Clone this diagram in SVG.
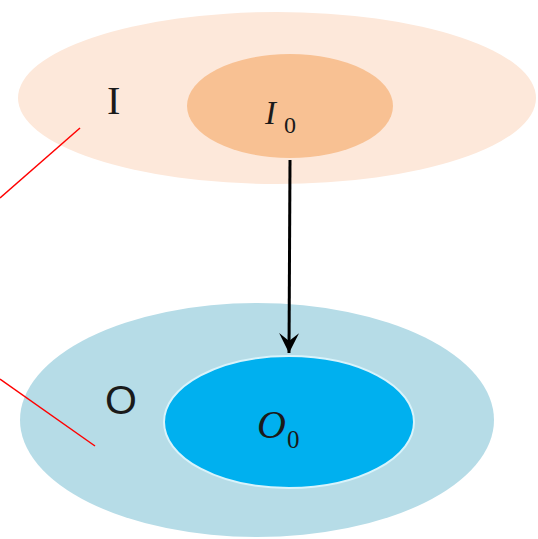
<svg xmlns="http://www.w3.org/2000/svg" width="538" height="539" viewBox="0 0 538 539">
<style>
.lbl{font-family:"Liberation Serif","DejaVu Serif",serif;fill:#1a1a1a}
.math{font-family:"Liberation Serif","DejaVu Serif",serif;font-style:italic;fill:#1a1a1a}
.sub{font-family:"Liberation Serif","DejaVu Serif",serif;fill:#1a1a1a}
.red{stroke:#ff0000;stroke-width:1.5;fill:none}
</style>
<defs>
<marker id="ah" markerWidth="20" markerHeight="20" viewBox="0 0 20 20" refX="20" refY="10" orient="auto" markerUnits="userSpaceOnUse">
<path d="M0,0 L20,10 L0,20 L8,10 Z" fill="#000"/>
</marker>
</defs>
<rect width="538" height="539" fill="#fff"/>
<g id="I">
<ellipse cx="277" cy="98" rx="259" ry="86" fill="#fde8da"/>
<text class="lbl" x="107" y="114" font-size="40">I</text>
</g>
<g id="I0">
<ellipse cx="290" cy="106" rx="103" ry="52" fill="#f8c193"/>
<text class="math" x="265" y="124" font-size="33">I</text>
<text class="sub" x="284" y="133" font-size="24">0</text>
</g>
<g id="O">
<ellipse cx="257" cy="420" rx="237" ry="117" fill="#b6dce7"/>
<text x="105" y="414" font-size="41" font-family="Liberation Sans, Arial, sans-serif" fill="#1a1a1a">O</text>
</g>
<g id="O0">
<ellipse cx="289" cy="422" rx="125" ry="66" fill="#00b0ef" stroke="#d8f3fb" stroke-width="2"/>
<text class="math" x="257" y="438" font-size="40">O</text>
<text class="sub" x="287" y="448" font-size="25">0</text>
</g>
<g id="connectors">
<line x1="290" y1="160" x2="289" y2="353" stroke="#000" stroke-width="3" marker-end="url(#ah)"/>
<line class="red" x1="0" y1="198" x2="80" y2="128"/>
<line class="red" x1="0" y1="379" x2="95" y2="446"/>
</g>
</svg>
